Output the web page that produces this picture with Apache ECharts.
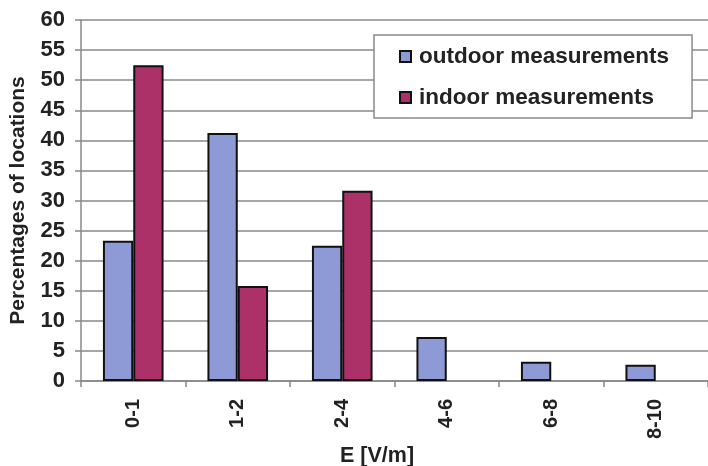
<!DOCTYPE html>
<html>
<head>
<meta charset="utf-8">
<script src="https://cdn.jsdelivr.net/npm/echarts@6/dist/echarts.min.js"></script>
<style>html,body{margin:0;padding:0;background:#fff}#c{width:708px;height:466px}</style>
</head>
<body>
<div id="c"></div>
<script>
const categories = ['0-1', '1-2', '2-4', '4-6', '6-8', '8-10'];
const outdoor = [23.3, 41.2, 22.5, 7.3, 3.2, 2.7];
const indoor = [52.5, 15.8, 31.6, null, null, null];
const yTicks = {min: 0, max: 60, interval: 5};

const chart = echarts.init(document.getElementById('c'), null, {renderer: 'canvas'});
const font = '"Liberation Sans", Arial, sans-serif';
chart.setOption({
  animation: false,
  backgroundColor: '#fff',
  grid: {left: 80, right: -11, top: 20, bottom: 85, containLabel: false},
  legend: {
    orient: 'vertical',
    left: 374, top: 35,
    padding: [10, 23, 9, 25],
    itemGap: 18,
    itemWidth: 11, itemHeight: 11,
    icon: 'rect',
    backgroundColor: '#fff',
    borderColor: '#8a8a8a',
    borderWidth: 1.5,
    textStyle: {fontFamily: font, fontWeight: 'bold', fontSize: 22.5, color: '#222', padding: [0, 0, 0, 3]},
    data: ['outdoor measurements', 'indoor measurements']
  },
  xAxis: {
    type: 'category',
    data: categories,
    axisLine: {lineStyle: {color: '#888', width: 1.5}},
    axisTick: {show: true, length: 6, lineStyle: {color: '#888', width: 1.5}},
    axisLabel: {rotate: 90, margin: 18, fontFamily: font, fontWeight: 'bold', fontSize: 20, color: '#222'}
  },
  yAxis: {
    type: 'value',
    min: yTicks.min, max: yTicks.max, interval: yTicks.interval,
    name: 'Percentages of locations',
    nameLocation: 'middle',
    nameGap: 52,
    nameTextStyle: {fontFamily: font, fontWeight: 'bold', fontSize: 21, color: '#222'},
    axisLine: {show: true, lineStyle: {color: '#888', width: 1.5}},
    axisTick: {show: true, length: 6, lineStyle: {color: '#888', width: 1.5}},
    splitLine: {lineStyle: {color: '#8a8a8a', width: 1.5}},
    axisLabel: {margin: 16, fontFamily: font, fontWeight: 'bold', fontSize: 22, color: '#222'}
  },
  graphic: [{
    type: 'text', left: 340, top: 445,
    style: {text: 'E [V/m]', fontFamily: font, fontWeight: 'bold', fontSize: 21.5, fill: '#222'}
  }],
  series: [
    {name: 'outdoor measurements', type: 'bar', data: outdoor, barGap: '0%', barCategoryGap: '42%',
     itemStyle: {color: '#8e9ad6', borderColor: '#111', borderWidth: 2}},
    {name: 'indoor measurements', type: 'bar', data: indoor, barGap: '0%', barCategoryGap: '42%',
     itemStyle: {color: '#ac3169', borderColor: '#111', borderWidth: 2}}
  ]
});
</script>
</body>
</html>
